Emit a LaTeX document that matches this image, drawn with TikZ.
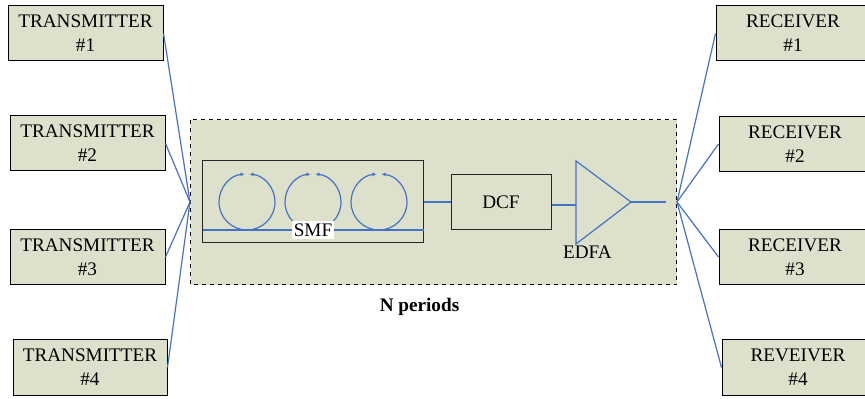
\documentclass[tikz,border=0pt]{standalone}
\usepackage{fontspec}
\setmainfont{Liberation Serif}
\usetikzlibrary{calc,arrows.meta}
\definecolor{boxfill}{HTML}{DDE1CB}
\definecolor{fibre}{HTML}{4472C4}
\newcommand*{\rad}{28}
\tikzset{
    unit/.style={draw=black, fill=boxfill, line width=0.75pt, align=center, inner sep=0pt},
    link/.style={draw=fibre, line width=0.9pt},
    block/.style={draw=black!85, line width=0.75pt}
}
\begin{document}
\begin{tikzpicture}[x=0.75pt, y=-0.75pt, font=\fontsize{14.4}{18}\selectfont]
    \useasboundingbox (0,0) rectangle (865,399);
    % period box
    \draw [fill=boxfill, draw=black, dashed, line width=0.75pt] (190.5,120) rectangle (676.5,285);
    \coordinate (hubl) at (190,202);
    \coordinate (hubr) at (677,202);
    \coordinate (out) at (666,202);
    % transmitters
    \node [unit, minimum width=116.25pt, minimum height=41.25pt] (tx1) at (85.5,33.5) {TRANSMITTER\\\#1};
    \node [unit, minimum width=116.25pt, minimum height=41.25pt] (tx2) at (87.5,143.5) {TRANSMITTER\\\#2};
    \node [unit, minimum width=116.25pt, minimum height=41.25pt] (tx3) at (87.5,257) {TRANSMITTER\\\#3};
    \node [unit, minimum width=115.5pt, minimum height=41.25pt] (tx4) at (90,367.5) {TRANSMITTER\\\#4};
    % receivers, their right edges run off the page
    \node [unit, minimum width=115.5pt, minimum height=41.25pt] (rx1) at (793,33.5) {RECEIVER\\\#1};
    \node [unit, minimum width=114pt, minimum height=41.25pt] (rx2) at (795,144) {RECEIVER\\\#2};
    \node [unit, minimum width=114pt, minimum height=41.25pt] (rx3) at (795,257) {RECEIVER\\\#3};
    \node [unit, minimum width=114pt, minimum height=41.25pt] (rx4) at (798,367.5) {REVEIVER\\\#4};
    \foreach \i in {1,...,4} {
        \draw [link] (tx\i.east) -- (hubl);
        \draw [link] (hubr) -- (rx\i.west);
    }
    % fibre span
    \node [block, draw, minimum width=165.75pt, minimum height=61.5pt, inner sep=0pt] (smf) at (313.25,201.75) {};
    \coordinate (fibl) at (203,230);
    \coordinate (fibr) at (423.5,230);
    \draw [link] (fibl) -- (fibr);
    \foreach \cx in {247,313,379} {
        \draw [link, -{Latex[length=3pt,width=3pt]}] (\cx,230) arc (90:265:\rad);
        \draw [link, -{Latex[length=3pt,width=3pt]}] (\cx,230) arc (90:-85:\rad);
    }
    \node [fill=white, inner xsep=1pt, inner ysep=2pt] (smflabel) at (313,230) {SMF};
    % dispersion compensation and amplifier
    \node [block, draw, minimum width=75pt, minimum height=41.25pt, inner sep=0pt] (dcf) at (501,201.75) {DCF};
    \coordinate (edfain) at (576,205);
    \coordinate (edfaout) at (631,202);
    \draw [link] (576,161) -- (edfaout) -- (576,244) -- cycle;
    \draw [link] (smf.east |- 0,202) -- (dcf.west |- 0,202);
    \draw [link] (dcf.east |- edfain) -- (edfain);
    \draw [link] (edfaout) -- (out);
    \node (edfa) at (587.5,252) {EDFA};
    \node [font=\fontsize{14.4}{18}\selectfont\bfseries] (periods) at (419.5,307) {N periods};
\end{tikzpicture}
\end{document}
